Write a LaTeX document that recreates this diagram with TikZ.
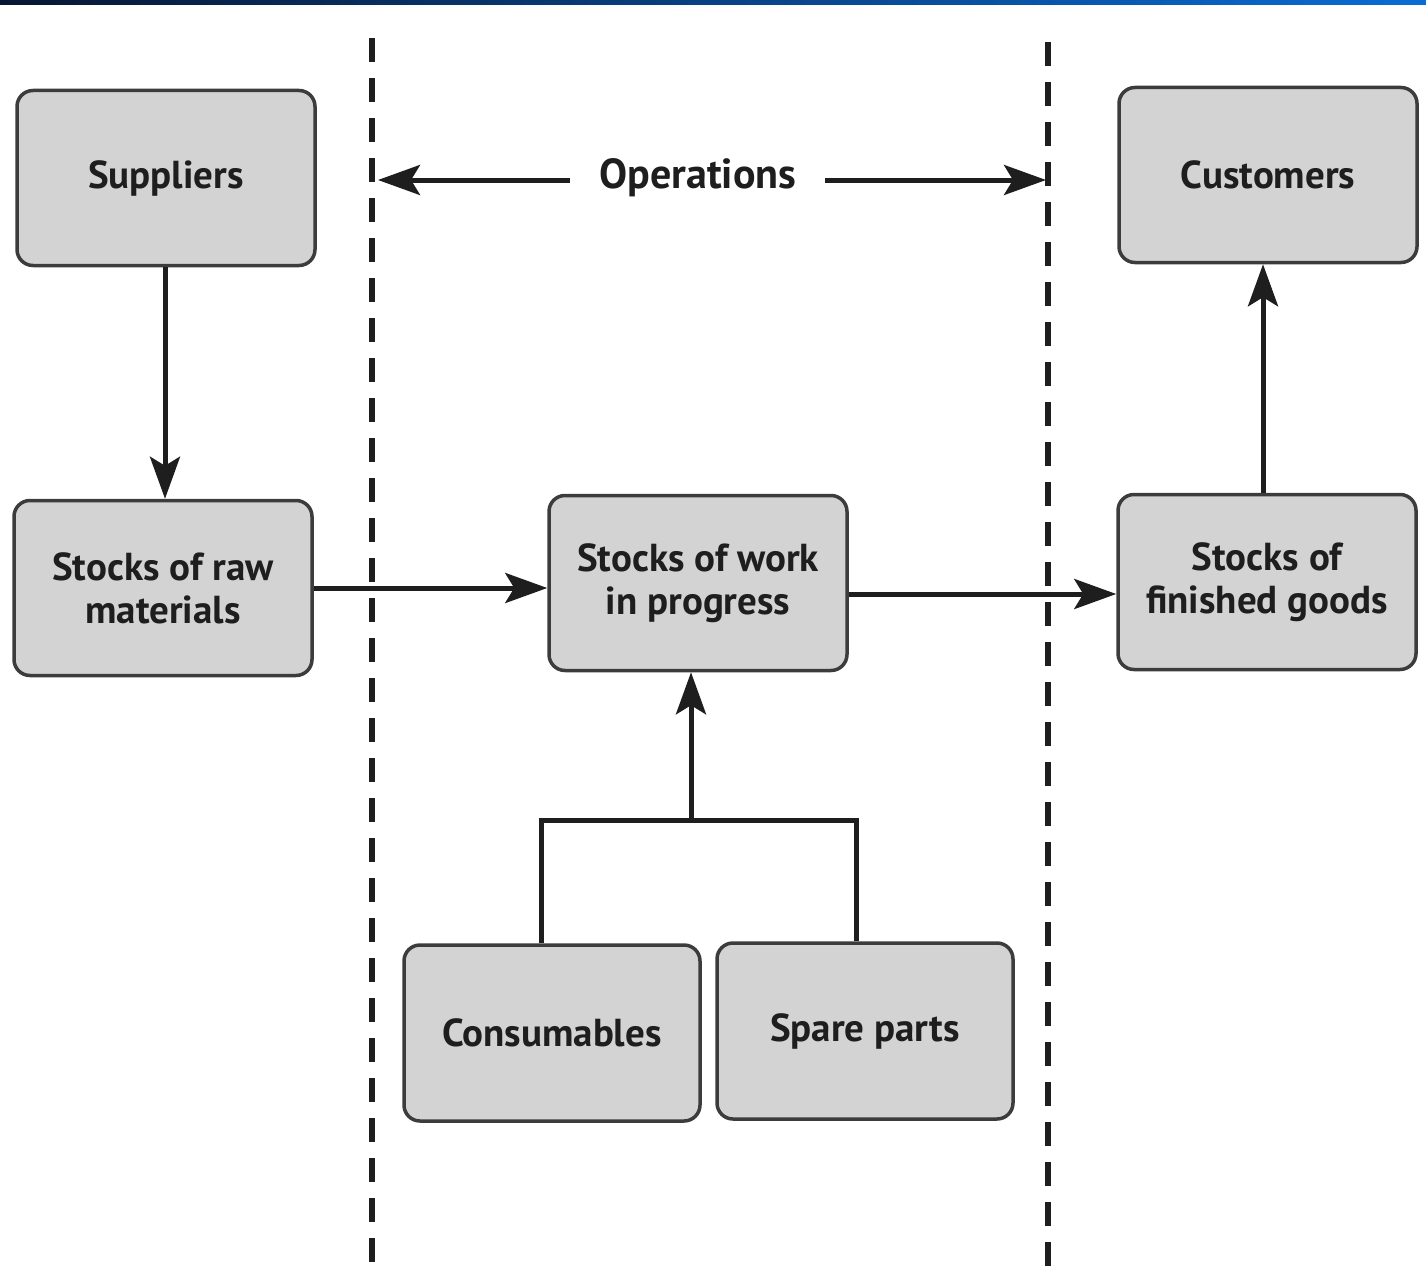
\documentclass[tikz,border=0pt]{standalone}
\usepackage{fontspec}
\setmainfont{PT Sans}
\usetikzlibrary{arrows.meta}
\definecolor{boxfill}{HTML}{D3D3D3}
\definecolor{boxline}{HTML}{3C3C3C}
\definecolor{ink}{HTML}{1E1E1E}
\definecolor{barL}{HTML}{071633}
\definecolor{barR}{HTML}{0A6CD4}
\tikzset{
  stockbox/.style={draw=boxline, line width=3.5pt, fill=boxfill, rounded corners=16pt,
    inner sep=0pt, minimum width=298pt, minimum height=175pt, align=center,
    font=\fontsize{39}{43}\selectfont\bfseries, text=ink},
  flow/.style={draw=ink, line width=5pt, -{Stealth[length=42pt,width=30pt,inset=9pt]}},
  link/.style={draw=ink, line width=5pt},
  boundary/.style={draw=ink, line width=6pt, dash pattern=on 24pt off 16pt},
  oplabel/.style={font=\fontsize{42}{48}\selectfont\bfseries, text=ink, inner sep=0pt}
}
\begin{document}
\begin{tikzpicture}[x=1pt,y=-1pt]
\useasboundingbox (0,0) rectangle (1426,1271);
\shade[left color=barL, right color=barR] (0,0) rectangle (1426,5);
% boundaries
\coordinate (lt) at (372,38);
\coordinate (lb) at (372,1271);
\coordinate (rt) at (1048,42);
\coordinate (rb) at (1048,1271);
\draw[boundary] (lt) -- (lb);
\draw[boundary] (rt) -- (rb);
% boxes
\node[stockbox] (sup) at (166,178) {Suppliers};
\node[stockbox] (raw) at (163,588) {Stocks of raw\\materials};
\node[stockbox] (wip) at (698,583) {Stocks of work\\in progress};
\node[stockbox] (fin) at (1267,582) {Stocks of\\finished goods};
\node[stockbox] (cus) at (1268,175) {Customers};
\node[stockbox, minimum width=296pt, minimum height=176pt] (con) at (552,1033) {Consumables};
\node[stockbox, minimum width=296pt, minimum height=176pt] (spa) at (865,1031) {Spare parts};
% operations
\node[oplabel] (ops) at (698,178) {Operations};
\coordinate (opsw) at (570,180);
\coordinate (opse) at (825,180);
\coordinate (opl) at (378,180);
\coordinate (opr) at (1046,180);
\draw[flow] (opsw) -- (opl);
\draw[flow] (opse) -- (opr);
% flows
\draw[flow] (sup.south -| 165,0) -- (raw.north -| 165,0);
\draw[flow] (raw.east |- 0,588) -- (wip.west |- 0,588);
\draw[flow] (wip.east |- 0,594) -- (fin.west |- 0,594);
\draw[flow] (fin.north -| 1263,0) -- (cus.south -| 1263,0);
\coordinate (br) at (691,820);
\draw[link] (con.north -| 541,0) |- (br) -| (spa.north -| 856,0);
\draw[flow] (br) -- (wip.south -| 691,0);
\end{tikzpicture}
\end{document}
